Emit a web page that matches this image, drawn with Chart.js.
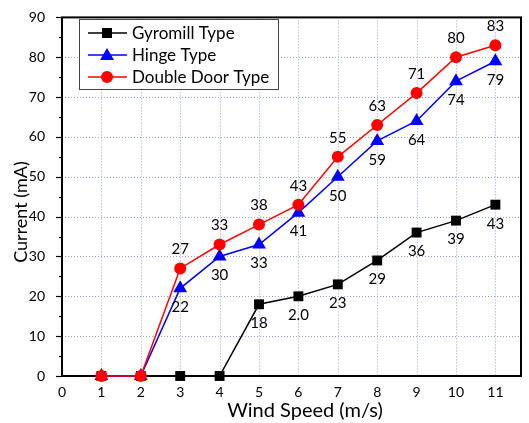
<!DOCTYPE html>
<html>
<head>
<meta charset="utf-8">
<script src="https://cdn.jsdelivr.net/npm/chart.js@4"></script>
<style>
  html, body { margin: 0; padding: 0; background: #fff; }
  #wrap { width: 529px; height: 423px; }
</style>
</head>
<body>
<div id="wrap"><canvas id="chart" width="529" height="423"></canvas></div>
<script>
// wind speed (m/s)
const speeds = [1, 2, 3, 4, 5, 6, 7, 8, 9, 10, 11];
const gyromill = [0, 0, 0, 0, 18, 20, 23, 29, 36, 39, 43];
const hinge = [0, 0, 22, 30, 33, 41, 50, 59, 64, 74, 79];
const doubleDoor = [0, 0, 27, 33, 38, 43, 55, 63, 71, 80, 83];
// labels as printed on the figure
const gyroLabels = ['', '', '', '', '18', '2.0', '23', '29', '36', '39', '43'];
const hingeLabels = ['', '', '22', '30', '33', '41', '50', '59', '64', '74', '79'];
const doorLabels = ['', '', '27', '33', '38', '43', '55', '63', '71', '80', '83'];
const xTicks = [0, 1, 2, 3, 4, 5, 6, 7, 8, 9, 10, 11];

const FONT = 'Lato, "DejaVu Sans", sans-serif';

function pts(vals) {
    return speeds.map((s, i) => ({ x: s, y: vals[i] }));
}

const series = [
    { label: 'Gyromill Type', data: gyromill, labels: gyroLabels, color: '#000000', style: 'rect', below: true },
    { label: 'Hinge Type', data: hinge, labels: hingeLabels, color: '#0000ff', style: 'triangle', below: true },
    { label: 'Double Door Type', data: doubleDoor, labels: doorLabels, color: '#ff0000', style: 'circle', below: false }
];

// dotted grid, frame and y ticks behind the lines
const dottedGrid = {
    id: 'dottedGrid',
    beforeDatasetsDraw(chart) {
        const ctx = chart.ctx;
        const xs = chart.scales.x, ys = chart.scales.y;
        const a = chart.chartArea;
        ctx.save();
        ctx.strokeStyle = '#9aa6c4';
        ctx.lineWidth = 1;
        ctx.setLineDash([1, 2]);
        xTicks.forEach(v => {
            if (v === 0) return;
            const px = Math.round(xs.getPixelForValue(v)) + 0.5;
            ctx.beginPath();
            ctx.moveTo(px, a.top);
            ctx.lineTo(px, a.bottom);
            ctx.stroke();
        });
        for (let v = 10; v < 90; v += 10) {
            const py = Math.round(ys.getPixelForValue(v)) + 0.5;
            ctx.beginPath();
            ctx.moveTo(a.left, py);
            ctx.lineTo(a.right, py);
            ctx.stroke();
        }
        ctx.setLineDash([]);

        // frame
        ctx.strokeStyle = '#000';
        ctx.lineWidth = 2;
        ctx.strokeRect(a.left, a.top, a.right - a.left, a.bottom - a.top);

        // y ticks (outside), major every 10, minor every 5
        ctx.lineWidth = 1.2;
        for (let v = 0; v <= 90; v += 5) {
            const py = Math.round(ys.getPixelForValue(v)) + 0.5;
            const len = v % 10 === 0 ? 6 : 3;
            ctx.beginPath();
            ctx.moveTo(a.left - len, py);
            ctx.lineTo(a.left, py);
            ctx.stroke();
        }
        ctx.restore();
    }
};

// data labels, axis titles and legend box
const extras = {
    id: 'extras',
    afterDatasetsDraw(chart) {
        const ctx = chart.ctx;
        const xs = chart.scales.x, ys = chart.scales.y;
        ctx.save();
        ctx.font = '15px ' + FONT;
        ctx.textAlign = 'center';
        ctx.textBaseline = 'middle';
        series.forEach(s => {
            ctx.fillStyle = '#000';
            s.data.forEach((v, i) => {
                const t = s.labels[i];
                if (!t) return;
                const px = xs.getPixelForValue(speeds[i]);
                const py = ys.getPixelForValue(v);
                ctx.fillText(t, px, s.below ? py + 19 : py - 19);
            });
        });

        // axis titles
        ctx.fillStyle = '#000';
        ctx.font = '20px ' + FONT;
        ctx.fillText('Wind Speed (m/s)', 305, 411);
        ctx.save();
        ctx.translate(21, 212);
        ctx.rotate(-Math.PI / 2);
        ctx.font = '18px ' + FONT;
        ctx.fillText('Current (mA)', 0, 0);
        ctx.restore();

        // legend
        const lx = 79, ly = 19, lw = 199, lh = 70;
        ctx.fillStyle = '#fff';
        ctx.fillRect(lx, ly, lw, lh);
        ctx.strokeStyle = '#444';
        ctx.lineWidth = 1;
        ctx.strokeRect(lx + 0.5, ly + 0.5, lw, lh);
        ctx.font = '17px ' + FONT;
        ctx.textAlign = 'left';
        series.forEach((s, i) => {
            const cy = ly + 14 + i * 22;
            ctx.strokeStyle = s.color;
            ctx.lineWidth = 1.3;
            ctx.beginPath();
            ctx.moveTo(lx + 9, cy);
            ctx.lineTo(lx + 48, cy);
            ctx.stroke();
            ctx.fillStyle = s.color;
            const mx = lx + 28;
            if (s.style === 'rect') {
                ctx.fillRect(mx - 5, cy - 5, 10, 10);
            } else if (s.style === 'triangle') {
                ctx.beginPath();
                ctx.moveTo(mx, cy - 7);
                ctx.lineTo(mx + 7, cy + 5);
                ctx.lineTo(mx - 7, cy + 5);
                ctx.closePath();
                ctx.fill();
            } else {
                ctx.beginPath();
                ctx.arc(mx, cy, 6, 0, Math.PI * 2);
                ctx.fill();
            }
            ctx.fillStyle = '#000';
            ctx.fillText(s.label, lx + 53, cy + 1);
        });
        ctx.restore();
    }
};

new Chart(document.getElementById('chart').getContext('2d'), {
    type: 'line',
    data: {
        datasets: series.map(s => ({
            label: s.label,
            data: pts(s.data),
            borderColor: s.color,
            backgroundColor: s.color,
            borderWidth: 1.5,
            pointStyle: s.style,
            pointRadius: s.style === 'rect' ? 7 : (s.style === 'triangle' ? 8 : 6),
            pointBorderWidth: 0,
            tension: 0,
            clip: false
        })).reverse()
    },
    options: {
        responsive: false,
        animation: false,
        layout: { padding: { left: 0, right: 8, top: 17, bottom: 0 } },
        plugins: { legend: { display: false }, tooltip: { enabled: false } },
        scales: {
            x: {
                type: 'linear',
                min: 0,
                max: 11.65,
                afterBuildTicks(scale) { scale.ticks = xTicks.map(v => ({ value: v })); },
                afterFit(scale) { scale.height = 47; },
                grid: { display: false, tickLength: 0 },
                border: { display: false },
                ticks: { color: '#000', font: { family: FONT, size: 14 }, padding: 8 },
                title: { display: false }
            },
            y: {
                min: 0,
                max: 90,
                afterFit(scale) { scale.width = 62; },
                ticks: { stepSize: 10, color: '#000', font: { family: FONT, size: 14 }, padding: 9 },
                grid: { display: false },
                border: { display: false },
                title: { display: false }
            }
        }
    },
    plugins: [dottedGrid, extras]
});
</script>
</body>
</html>
